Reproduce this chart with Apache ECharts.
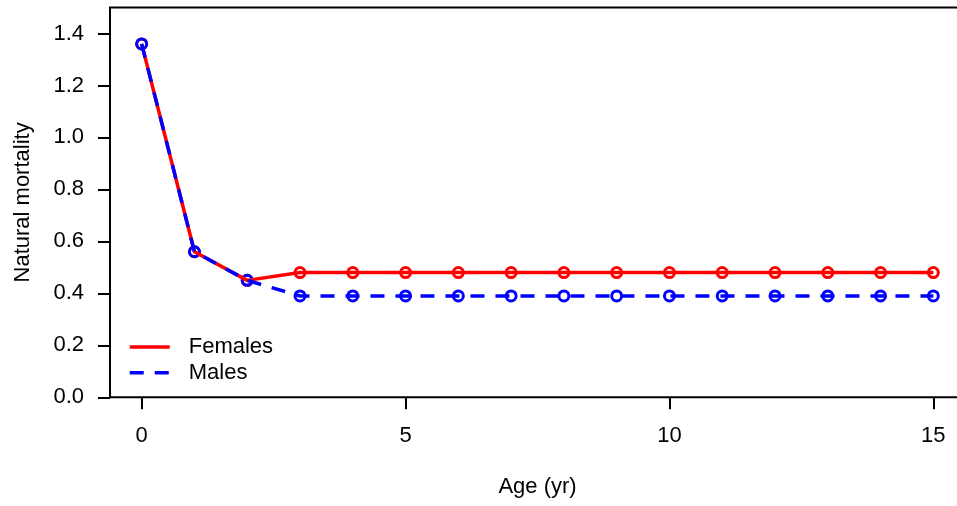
<!DOCTYPE html>
<html>
<head>
<meta charset="utf-8">
<script src="https://cdn.jsdelivr.net/npm/echarts@6/dist/echarts.min.js"></script>
<style>
  html, body { margin: 0; padding: 0; background: #fff; }
  #chart { width: 957px; height: 506px; }
</style>
</head>
<body>
<div id="chart"></div>
<script>
// Natural mortality by age, females vs males
const ages = [0, 1, 2, 3, 4, 5, 6, 7, 8, 9, 10, 11, 12, 13, 14, 15];
const females = [1.36, 0.56, 0.45, 0.48, 0.48, 0.48, 0.48, 0.48, 0.48, 0.48, 0.48, 0.48, 0.48, 0.48, 0.48, 0.48];
const males = [1.36, 0.56, 0.45, 0.39, 0.39, 0.39, 0.39, 0.39, 0.39, 0.39, 0.39, 0.39, 0.39, 0.39, 0.39, 0.39];
const xTicks = [0, 5, 10, 15];
const yTicks = [0, 0.2, 0.4, 0.6, 0.8, 1.0, 1.2, 1.4];

const FONT = '"Liberation Sans", Arial, sans-serif';
const FS = 22;
const RED = '#ff0000';
const BLUE = '#0000ff';

const pairs = vals => ages.map((a, i) => [a, vals[i]]);

const chart = echarts.init(document.getElementById('chart'), null, { renderer: 'canvas' });

chart.setOption({
  animation: false,
  backgroundColor: '#fff',
  textStyle: { fontFamily: FONT },
  grid: {
    left: 110, top: 7.5, width: 855, bottom: 108.7,
    outerBoundsMode: 'none',
    show: true, borderColor: '#000', borderWidth: 2, backgroundColor: 'transparent'
  },
  legend: {
    data: ['Females', 'Males'],
    orient: 'vertical',
    left: 128, top: 336,
    padding: 0,
    itemWidth: 40, itemHeight: 14, itemGap: 3.7,
    selectedMode: false,
    itemStyle: { opacity: 0 },
    lineStyle: { width: 3.5 },
    textStyle: { fontFamily: FONT, fontSize: FS, lineHeight: 22, color: '#000', padding: [0, 0, 0, 14] }
  },
  xAxis: {
    type: 'value',
    min: -0.6, max: 15.6,
    name: 'Age (yr)',
    nameLocation: 'middle',
    nameGap: 79,
    nameTextStyle: { fontFamily: FONT, fontSize: FS, color: '#000' },
    splitLine: { show: false },
    axisLine: { show: false, onZero: false },
    axisTick: { show: true, inside: false, length: 12, customValues: xTicks, lineStyle: { color: '#000', width: 2 } },
    axisLabel: { customValues: xTicks, margin: 28, fontFamily: FONT, fontSize: FS, color: '#000' }
  },
  yAxis: {
    type: 'value',
    min: 0, max: 1.5,
    name: 'Natural mortality',
    nameLocation: 'middle',
    nameGap: 76,
    nameTextStyle: { fontFamily: FONT, fontSize: FS, color: '#000' },
    splitLine: { show: false },
    axisLine: { show: false, onZero: false },
    axisTick: { show: true, inside: false, length: 12, customValues: yTicks, lineStyle: { color: '#000', width: 2 } },
    axisLabel: {
      customValues: yTicks, margin: 26, fontFamily: FONT, fontSize: FS, color: '#000',
      formatter: v => v.toFixed(1)
    }
  },
  series: [
    {
      name: 'Females', type: 'line', data: pairs(females),
      symbol: 'none', silent: true,
      lineStyle: { color: RED, width: 3.5, type: 'solid' },
      itemStyle: { color: RED }
    },
    {
      name: 'Females pts', type: 'scatter', data: pairs(females),
      symbol: 'circle', symbolSize: 10, silent: true,
      itemStyle: { color: 'transparent', borderColor: RED, borderWidth: 3, opacity: 1 }
    },
    {
      name: 'Males', type: 'line', data: pairs(males),
      symbol: 'none', silent: true,
      lineStyle: { color: BLUE, width: 3.5, type: [14, 11] },
      itemStyle: { color: BLUE }
    },
    {
      name: 'Males pts', type: 'scatter', data: pairs(males),
      symbol: 'circle', symbolSize: 10, silent: true,
      itemStyle: { color: 'transparent', borderColor: BLUE, borderWidth: 3, opacity: 1 }
    }
  ]
});
</script>
</body>
</html>
